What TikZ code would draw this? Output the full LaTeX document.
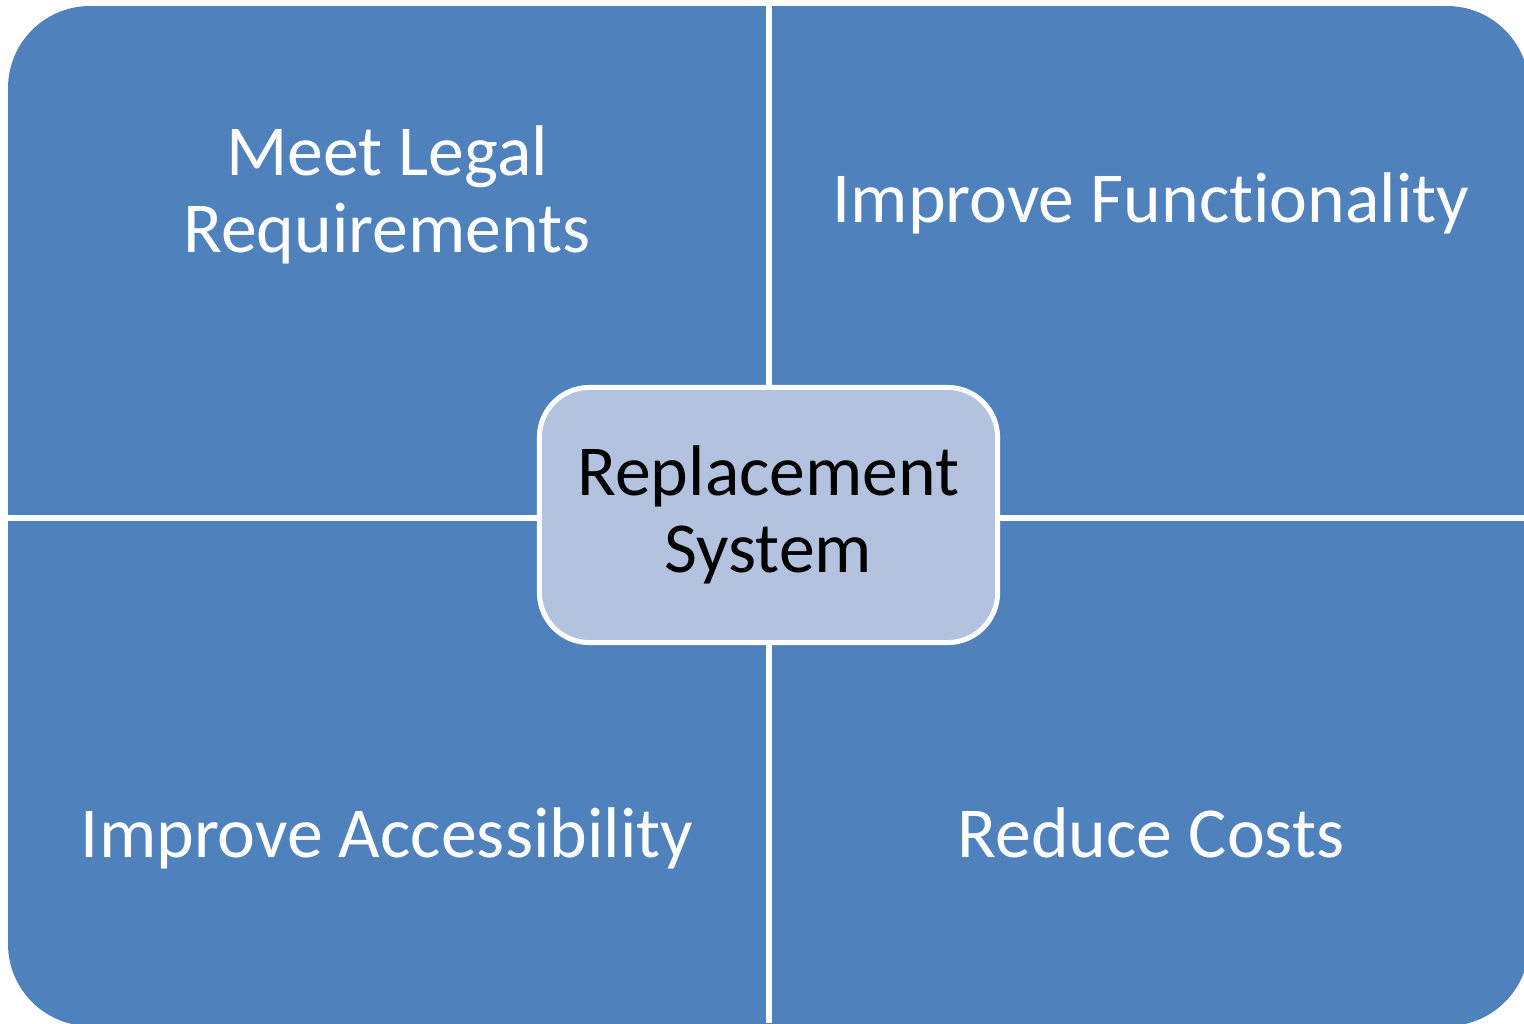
\documentclass[tikz,border=0pt]{standalone}
\usepackage{fontspec}
\setmainfont{Carlito}[RawFeature=-liga]
\definecolor{quadblue}{HTML}{4F81BD}
\definecolor{hubblue}{HTML}{B3C2DE}

\begin{document}
\begin{tikzpicture}[x=0.01cm, y=-0.01cm,
  goal/.style={text=white, font=\fontsize{20.4}{21.8}\selectfont, align=center},
  hub/.style={rectangle, rounded corners=0.5cm, draw=white, line width=0.05cm, fill=hubblue,
    minimum width=4.58cm, minimum height=2.55cm, font=\fontsize{20.4}{21.8}\selectfont, align=center}]
\useasboundingbox (0,0) rectangle (1524,1023);

% quadrants
\begin{scope}
\clip (0,0) rectangle (1524,1023);
\fill[quadblue, rounded corners=0.82cm] (8,6) rectangle (1529,1026);
\end{scope}
\draw[white, line width=0.06cm] (769,0) -- (769,1023);
\draw[white, line width=0.06cm] (0,518) -- (1524,518);

\node[goal, anchor=base] (legal) at (387,252) {Meet Legal\\Requirements};
\node[goal, anchor=base] (function) at (1151,222) {Improve Functionality};
\node[goal, anchor=base] (access) at (387,857) {Improve Accessibility};
\node[goal, anchor=base] (costs) at (1151,857) {Reduce Costs};

\node[hub] (hub) at (768.5,515) {Replacement\\System};
\end{tikzpicture}
\end{document}
